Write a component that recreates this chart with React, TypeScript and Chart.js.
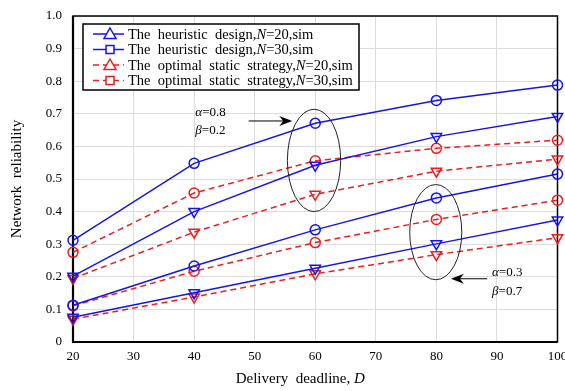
import React, { useEffect, useRef } from "react";
import { Chart, registerables } from "chart.js";
Chart.register(...registerables);

// ---- data ----
const deadlines = [20, 40, 60, 80, 100];
// alpha = 0.8, beta = 0.2
const heurN30_a08 = [0.312, 0.548, 0.671, 0.741, 0.788];
const heurN20_a08 = [0.202, 0.4, 0.542, 0.63, 0.692];
const optN30_a08 = [0.275, 0.457, 0.556, 0.594, 0.619];
const optN20_a08 = [0.195, 0.337, 0.453, 0.524, 0.561];
// alpha = 0.3, beta = 0.7
const heurN30_a03 = [0.113, 0.233, 0.344, 0.442, 0.515];
const optN30_a03 = [0.111, 0.217, 0.305, 0.376, 0.435];
const heurN20_a03 = [0.076, 0.151, 0.226, 0.301, 0.374];
const optN20_a03 = [0.07, 0.138, 0.209, 0.268, 0.32];

const xMin = 20, xMax = 100, xStep = 10;
const yMin = 0, yMax = 1, yStep = 0.1;

const legendPrefixes = [
  "The  heuristic  design,",
  "The  heuristic  design,",
  "The  optimal  static  strategy,",
  "The  optimal  static  strategy,",
];
const legendSuffixes = ["=20,sim", "=30,sim", "=20,sim", "=30,sim"];

const BLUE = "rgb(20,20,235)";
const RED = "rgb(235,30,30)";
const SERIF = "'Liberation Serif', 'DejaVu Serif', serif";

const mk = (vals: number[]) => vals.map((v, i) => ({ x: deadlines[i], y: v }));

function ds(vals: number[], color: string, dashed: boolean, tri: boolean) {
  return {
    data: mk(vals),
    borderColor: color,
    backgroundColor: "rgba(0,0,0,0)",
    borderWidth: 1.5,
    borderDash: dashed ? [6, 4] : [],
    pointStyle: tri ? "triangle" : "circle",
    pointRotation: tri ? 180 : 0,
    pointRadius: tri ? 6 : 5,
    pointBorderColor: color,
    pointBackgroundColor: "rgba(0,0,0,0)",
    pointBorderWidth: 1.5,
    tension: 0,
    clip: false as any,
  };
}

function drawMixed(ctx: CanvasRenderingContext2D, parts: { t: string; it?: boolean }[], x: number, y: number, size: number) {
  let cx = x;
  ctx.textBaseline = "middle";
  ctx.textAlign = "left";
  for (const p of parts) {
    ctx.font = `${p.it ? "italic " : ""}${size}px ${SERIF}`;
    ctx.fillText(p.t, cx, y);
    cx += ctx.measureText(p.t).width;
  }
  return cx;
}

function drawArrow(ctx: CanvasRenderingContext2D, x1: number, y1: number, x2: number, y2: number) {
  const ang = Math.atan2(y2 - y1, x2 - x1);
  ctx.save();
  ctx.strokeStyle = "#000";
  ctx.fillStyle = "#000";
  ctx.lineWidth = 1;
  ctx.beginPath();
  ctx.moveTo(x1, y1);
  ctx.lineTo(x2 - 6 * Math.cos(ang), y2 - 6 * Math.sin(ang));
  ctx.stroke();
  ctx.translate(x2, y2);
  ctx.rotate(ang);
  ctx.beginPath();
  ctx.moveTo(0, 0);
  ctx.lineTo(-13, -5);
  ctx.lineTo(-9, 0);
  ctx.lineTo(-13, 5);
  ctx.closePath();
  ctx.fill();
  ctx.restore();
}

function marker(ctx: CanvasRenderingContext2D, kind: string, x: number, y: number, color: string) {
  ctx.save();
  ctx.strokeStyle = color;
  ctx.lineWidth = 1.5;
  ctx.setLineDash([]);
  ctx.beginPath();
  if (kind === "tri") {
    ctx.moveTo(x, y - 6);
    ctx.lineTo(x + 6, y + 4.5);
    ctx.lineTo(x - 6, y + 4.5);
    ctx.closePath();
  } else {
    ctx.rect(x - 4, y - 4, 8, 8);
  }
  ctx.fillStyle = "#fff";
  ctx.fill();
  ctx.stroke();
  ctx.restore();
}

const framePlugin = {
  id: "frame",
  beforeDatasetsDraw(chart: any) {
    const { ctx, chartArea: a } = chart;
    ctx.save();
    ctx.strokeStyle = "#000";
    ctx.lineWidth = 1.5;
    ctx.strokeRect(a.left, a.top, a.right - a.left, a.bottom - a.top);
    ctx.lineWidth = 2.2;
    ctx.beginPath();
    ctx.moveTo(a.left, a.top);
    ctx.lineTo(a.left, a.bottom);
    ctx.lineTo(a.right, a.bottom);
    ctx.stroke();
    ctx.restore();
  },
};

const annotPlugin = {
  id: "annot",
  afterDraw(chart: any) {
    const { ctx, chartArea: a } = chart;
    const xs = chart.scales.x, ys = chart.scales.y;
    const px = (v: number) => xs.getPixelForValue(v);
    const py = (v: number) => ys.getPixelForValue(v);
    ctx.save();
    // ellipses
    const ell = (cx: number, cy: number, rx: number, ry: number) => {
      ctx.beginPath();
      ctx.ellipse(px(cx), py(cy), Math.abs(px(cx + rx) - px(cx)), Math.abs(py(cy + ry) - py(cy)), 0, 0, Math.PI * 2);
      ctx.strokeStyle = "#222";
      ctx.lineWidth = 1;
      ctx.setLineDash([]);
      ctx.stroke();
    };
    ell(59.8, 0.557, 4.4, 0.157);
    ell(79.9, 0.337, 4.3, 0.146);
    drawArrow(ctx, px(49.0), py(0.678), px(56.2), py(0.678));
    drawArrow(ctx, px(88.4), py(0.194), px(82.4), py(0.194));
    ctx.fillStyle = "#000";
    drawMixed(ctx, [{ t: "α", it: true }, { t: "=0.8" }], px(40.2), py(0.705), 13);
    drawMixed(ctx, [{ t: "β", it: true }, { t: "=0.2" }], px(40.2), py(0.65), 13);
    drawMixed(ctx, [{ t: "α", it: true }, { t: "=0.3" }], px(89.2), py(0.213), 13);
    drawMixed(ctx, [{ t: "β", it: true }, { t: "=0.7" }], px(89.2), py(0.155), 13);

    // legend
    const lx = a.left + 10, ly = a.top + 8, lw = 276, lh = 66;
    ctx.fillStyle = "#fff";
    ctx.fillRect(lx, ly, lw, lh);
    ctx.strokeStyle = "#000";
    ctx.lineWidth = 1.5;
    ctx.strokeRect(lx, ly, lw, lh);
    const colors = [BLUE, BLUE, RED, RED];
    const kinds = ["tri", "sq", "tri", "sq"];
    for (let i = 0; i < 4; i++) {
      const yy = ly + 10 + i * 15.5;
      ctx.save();
      ctx.strokeStyle = colors[i];
      ctx.lineWidth = 1.5;
      ctx.setLineDash(i >= 2 ? [6, 4] : []);
      ctx.beginPath();
      ctx.moveTo(lx + 10, yy);
      ctx.lineTo(lx + 41, yy);
      ctx.stroke();
      ctx.restore();
      marker(ctx, kinds[i], lx + 27, yy, colors[i]);
      ctx.fillStyle = "#000";
      drawMixed(ctx, [{ t: legendPrefixes[i] }, { t: "N", it: true }, { t: legendSuffixes[i] }], lx + 45, yy + 1, 14.5);
    }

    // axis titles
    ctx.fillStyle = "#000";
    ctx.font = `15px ${SERIF}`;
    const p1 = "Delivery  deadline, ";
    const w1 = ctx.measureText(p1).width;
    ctx.font = `italic 15px ${SERIF}`;
    const w2 = ctx.measureText("D").width;
    const cx = (a.left + a.right) / 2 - 15;
    drawMixed(ctx, [{ t: p1 }, { t: "D", it: true }], cx - (w1 + w2) / 2, 379, 15);

    ctx.save();
    ctx.translate(17, (a.top + a.bottom) / 2);
    ctx.rotate(-Math.PI / 2);
    ctx.font = `15px ${SERIF}`;
    ctx.textAlign = "center";
    ctx.textBaseline = "middle";
    ctx.fillText("Network  reliability", 0, 0);
    ctx.restore();
    ctx.restore();
  },
};

export default function App() {
  const ref = useRef<HTMLCanvasElement>(null);
  useEffect(() => {
    if (!ref.current) return;
    const chart = new Chart(ref.current, {
      type: "line",
      data: {
        datasets: [
          ds(heurN30_a08, BLUE, false, false),
          ds(heurN20_a08, BLUE, false, true),
          ds(optN30_a08, RED, true, false),
          ds(optN20_a08, RED, true, true),
          ds(heurN30_a03, BLUE, false, false),
          ds(optN30_a03, RED, true, false),
          ds(heurN20_a03, BLUE, false, true),
          ds(optN20_a03, RED, true, true),
        ] as any,
      },
      options: {
        animation: false,
        responsive: false,
        devicePixelRatio: 1,
        layout: { padding: { left: 0, right: 7, top: 16, bottom: 0 } },
        plugins: { legend: { display: false }, tooltip: { enabled: false } },
        scales: {
          x: {
            type: "linear",
            min: xMin,
            max: xMax,
            ticks: { stepSize: xStep, color: "#000", font: { family: SERIF, size: 13 }, padding: 7 },
            grid: { color: "#dcdcdc", drawTicks: false },
            border: { display: false },
            afterFit: (s: any) => {
              s.height = 49;
              s.paddingLeft = 0;
              s.paddingRight = 0;
            },
          },
          y: {
            min: yMin,
            max: yMax,
            ticks: {
              stepSize: yStep,
              color: "#000",
              font: { family: SERIF, size: 13 },
              padding: 11,
              callback: (v: any) => (Number(v) === 0 ? "0" : Number(v).toFixed(1)),
            },
            grid: { color: "#dcdcdc", drawTicks: false },
            border: { display: false },
            afterFit: (s: any) => {
              s.width = 73;
              s.paddingTop = 0;
              s.paddingBottom = 0;
            },
          },
        },
      } as any,
      plugins: [framePlugin, annotPlugin],
    });
    return () => chart.destroy();
  }, []);
  return (
    <div style={{ position: "fixed", left: 0, top: 0, width: 565, height: 391, background: "#fff" }}>
      <canvas ref={ref} width={565} height={391} style={{ display: "block" }} />
    </div>
  );
}
